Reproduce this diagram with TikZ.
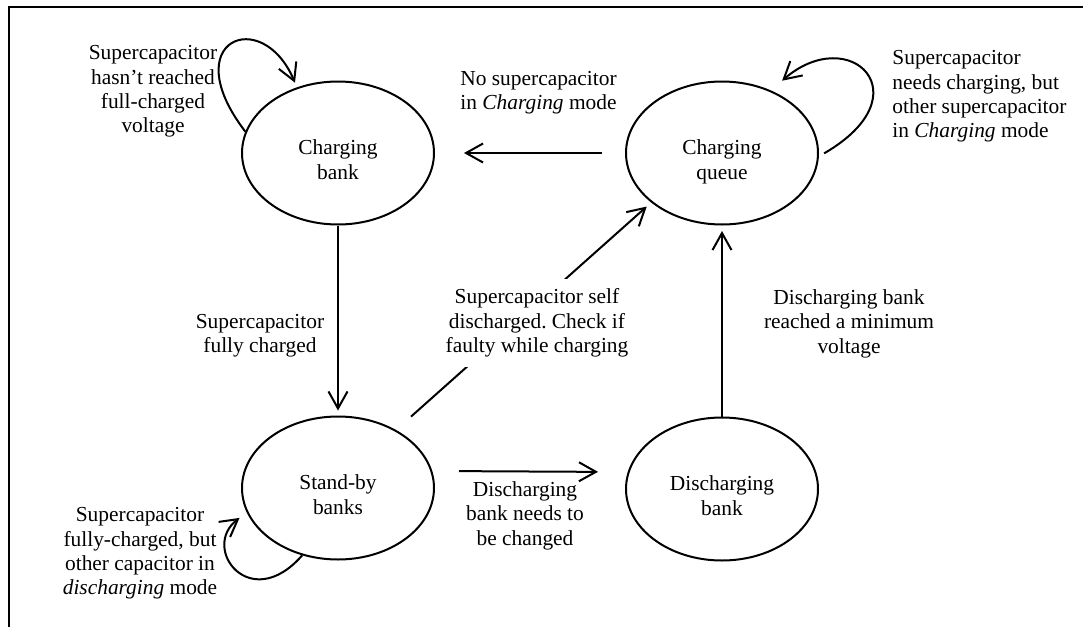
\documentclass[tikz,border=0pt]{standalone}
\usepackage{fontspec}
\setmainfont{Liberation Serif}
\frenchspacing
\usetikzlibrary{arrows.meta,shapes.geometric}
\tikzset{
  state/.style={draw=black, ellipse, line width=1pt, minimum width=96pt,
    minimum height=71.5pt, inner sep=0pt},
  transition/.style={-{Straight Barb[length=8.5pt,width=9.5pt]}, line width=1pt},
  note/.style={align=center, inner sep=0pt},
  note left/.style={align=left, inner sep=0pt, anchor=west}
}
\newcommand{\stateText}[2]{%
  \raisebox{-4.5pt}[\height][\depth]{\begin{tabular}{@{}c@{}}#1\\#2\end{tabular}}%
}

\begin{document}
\begin{tikzpicture}[x=0.5pt,y=-0.5pt,font=\fontsize{10.7}{12.2}\selectfont]
  \useasboundingbox (0,0) rectangle (1083,627);
  \draw[line width=1pt] (9,627) -- (9,7) -- (1083,7);

  \node[state] (CB) at (338,153) {\stateText{Charging}{bank}};
  \node[state] (CQ) at (722,153) {\stateText{Charging}{queue}};
  \node[state] (SB) at (338,488) {\stateText{Stand-by}{banks}};
  \node[state] (DB) at (722,489) {\stateText{Discharging}{bank}};

  \draw[transition, shorten <=11.5pt, shorten >=14.5pt] (CQ.west) -- (CB.east);
  \draw[transition, shorten >=2.5pt] (CB.south) -- (SB.north);
  \draw[transition, shorten <=10pt, shorten >=3pt] (SB.45) -- (CQ.215);
  \draw[transition, shorten <=12pt, shorten >=13.5pt]
    ([yshift=8.5pt]SB.east) -- ([yshift=8.5pt]DB.west);
  \draw[transition, shorten >=2.75pt] (DB.north) -- (CQ.south);

  \draw[transition, shorten >=2.5pt]
    (CB.167) .. controls (175,40) and (262,5) .. (CB.122);
  \draw[transition, shorten <=3pt, shorten >=7.4pt]
    (CQ.358) .. controls (925,95) and (850,22) .. (CQ.52);
  \draw[transition, shorten >=4.5pt]
    (SB.242) .. controls (250,615) and (200,548) .. (SB.195);

  \node[note] (lblChargeLoop) at (153,91.5)
    {Supercapacitor\\hasn’t reached\\full-charged\\voltage};
  \node[note left] (lblNoCharging) at (460,92.5)
    {No supercapacitor\\in \textit{Charging} mode};
  \node[note left] (lblQueueLoop) at (892,96.5)
    {Supercapacitor\\needs charging, but\\other supercapacitor\\in \textit{Charging} mode};
  \node[note] (lblFull) at (260,335.5) {Supercapacitor\\fully charged};
  \node[note, fill=white, inner sep=5pt] (lblSelfDis) at (537,323)
    {Supercapacitor self\\discharged. Check if\\faulty while charging};
  \node[note] (lblMinimum) at (849,323.5)
    {Discharging bank\\reached a minimum\\voltage};
  \node[note] (lblChange) at (525,515.5)
    {Discharging\\bank needs to\\be changed};
  \node[note] (lblStandLoop) at (140,553.5)
    {Supercapacitor\\fully-charged, but\\other capacitor in\\\textit{discharging} mode};
\end{tikzpicture}
\end{document}
